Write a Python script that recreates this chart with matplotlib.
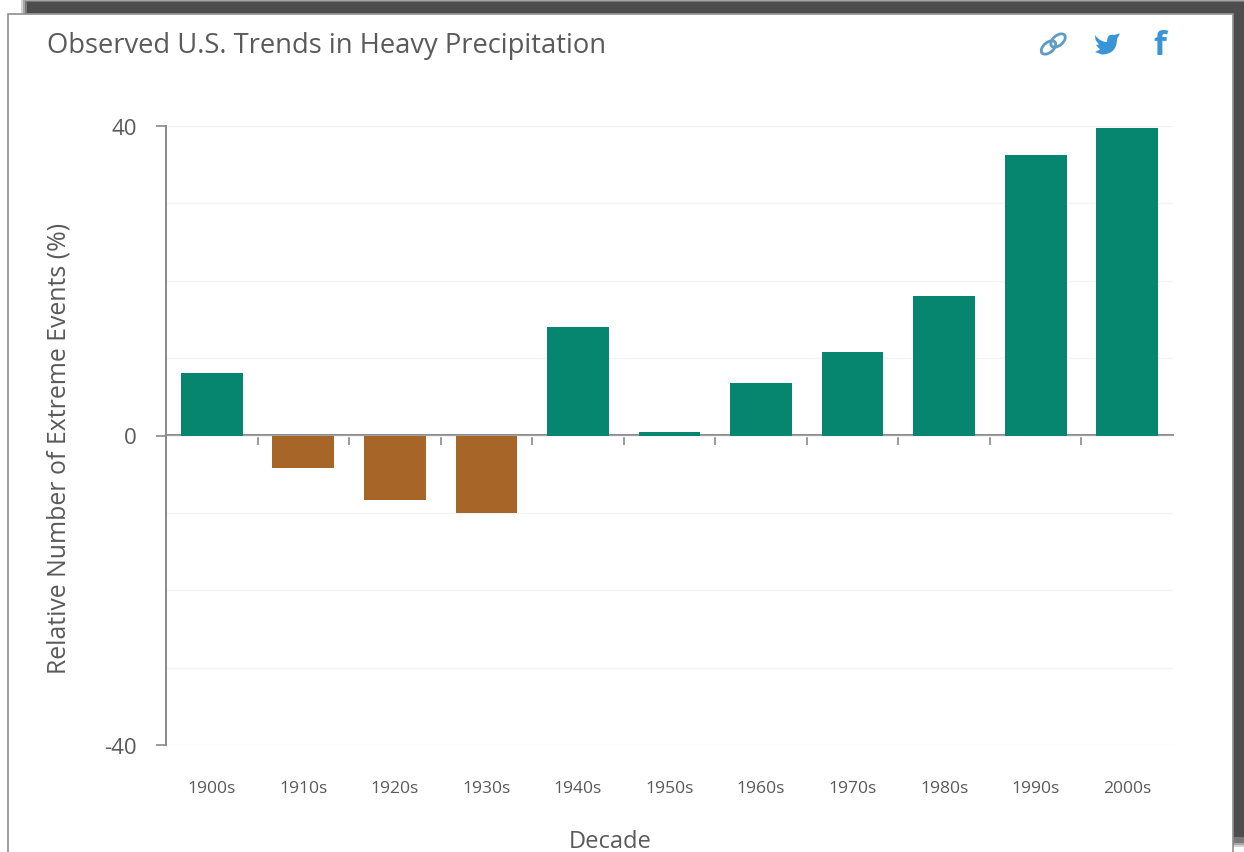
"""Bar chart of observed U.S. trends in heavy precipitation by decade."""

import matplotlib

matplotlib.use("Agg")

import matplotlib.pyplot as plt
from matplotlib.patches import Ellipse, PathPatch, Rectangle
from matplotlib.path import Path

decades = ["1900s", "1910s", "1920s", "1930s", "1940s", "1950s",
           "1960s", "1970s", "1980s", "1990s", "2000s"]
extreme_events = [8.1, -4.2, -8.4, -10.0, 14.0, 0.5, 6.8, 10.8, 18.0, 36.3, 39.7]
major_y_ticks = [-40, 0, 40]
minor_y_ticks = [-30, -20, -10, 10, 20, 30]

W, H = 1244, 853
TEAL = "#07866f"
BROWN = "#a86528"
TEXT = "#5a5a5a"
AXIS = "#8a8a8a"
GRID = "#f3f3f3"
ICON = "#3a94d8"
LINK = "#5e9cc6"
SHADOW = "#4d4d4d"

plt.rcParams["font.family"] = ["Open Sans", "DejaVu Sans"]

fig = plt.figure(figsize=(W / 100, H / 100), dpi=100, facecolor="white")

# Page layer in pixel coordinates: drop shadow and card outline
page = fig.add_axes([0, 0, 1, 1], zorder=0)
page.set_xlim(0, W)
page.set_ylim(H, 0)
page.axis("off")

# Soft shadow edge, lightest step first
for i, shade in enumerate(["#d4d4d4", "#a6a6a6", "#787878"]):
    page.add_patch(Rectangle((21 + i * 2, i), W, 14, fc=shade, ec="none", zorder=1 + i * 0.1))
    page.add_patch(Rectangle((1233, 832 + (3 - i) * 2), 11, 10, fc=shade, ec="none", zorder=1 + i * 0.1))
page.add_patch(Rectangle((27, 3), W - 27, 11, fc=SHADOW, ec="none", zorder=2))
page.add_patch(Rectangle((1233, 3), 11, 835, fc=SHADOW, ec="none", zorder=2))
page.add_patch(Rectangle((7.5, 14.5), 1225.5, 850, fc="white", ec="#8f8f8f", lw=1.2, zorder=3))

# Chart area
ax = fig.add_axes([166 / W, 1 - 746 / H, (1173 - 166) / W, (746 - 127) / H], zorder=2)
ax.patch.set_alpha(0)
x = list(range(len(decades)))
colors = [TEAL if v >= 0 else BROWN for v in extreme_events]
ax.bar(x, extreme_events, width=0.675, color=colors, zorder=3)

ax.set_xlim(-0.5, len(decades) - 0.5)
ax.set_ylim(-40, 40)
ax.set_xticks(x, decades)
ax.set_yticks(major_y_ticks, ["-40", "0", "40"])
ax.set_yticks(minor_y_ticks, minor=True)
ax.tick_params(axis="x", length=0, pad=25.5, labelsize=12.6, labelcolor=TEXT)
ax.tick_params(axis="y", which="major", length=7.2, width=1.2, color=AXIS, pad=14, labelsize=16, labelcolor=TEXT)
ax.tick_params(axis="y", which="minor", length=0)
ax.grid(True, axis="y", which="both", color=GRID, lw=1, zorder=0)
ax.set_axisbelow(True)
for side in ["top", "right", "bottom"]:
    ax.spines[side].set_visible(False)
ax.spines["left"].set_color(AXIS)
ax.spines["left"].set_linewidth(1.4)

# Zero baseline with decade separators hanging below it
zero_axis = ax.secondary_xaxis(0.5)
zero_axis.set_xticks([i + 0.5 for i in x[:-1]], [""] * (len(x) - 1))
zero_axis.tick_params(direction="in", length=7, width=1.2, color=AXIS)
zero_axis.spines["bottom"].set_visible(False)
zero_axis.spines["top"].set_visible(True)
zero_axis.spines["top"].set_color(AXIS)
zero_axis.spines["top"].set_linewidth(1.4)

fig.text(47 / W, 1 - 46.5 / H, "Observed U.S. Trends in Heavy Precipitation",
         fontsize=19.7, color=TEXT, va="center", ha="left")
fig.text(59 / W, 1 - 448 / H, "Relative Number of Extreme Events (%)",
         fontsize=17.9, color=TEXT, rotation=90, va="center", ha="center")
fig.text(610 / W, 1 - 842 / H, "Decade", fontsize=17, color=TEXT, va="center", ha="center", zorder=5)

# Share icons
icons = fig.add_axes([0, 0, 1, 1], zorder=3)
icons.set_xlim(0, W)
icons.set_ylim(H, 0)
icons.axis("off")

for cx, cy in [(1048.5, 48.5), (1058, 41.5)]:
    icons.add_patch(Ellipse((cx, cy), 17, 10, angle=-40, fc="none", ec=LINK, lw=2))

bird = [
    (Path.MOVETO, (1095, 36)), (Path.CURVE3, (1100, 43)), (Path.CURVE3, (1107, 43)),
    (Path.CURVE3, (1107, 34)), (Path.CURVE3, (1114, 36)), (Path.LINETO, (1120, 34.5)),
    (Path.LINETO, (1117, 40)), (Path.CURVE3, (1117, 55)), (Path.CURVE3, (1102, 55.5)),
    (Path.LINETO, (1095, 53)), (Path.LINETO, (1100, 50.5)), (Path.LINETO, (1096, 46)),
    (Path.LINETO, (1099, 45.5)), (Path.LINETO, (1095.5, 41)), (Path.CLOSEPOLY, (1095, 36)),
]
codes, verts = zip(*bird)
icons.add_patch(PathPatch(Path(verts, codes), fc=ICON, ec="none"))
icons.text(1160, 46.5, "f", fontsize=24, fontweight="bold", color=ICON, ha="center", va="center")

fig.savefig("out.png", dpi=100)
plt.close(fig)
